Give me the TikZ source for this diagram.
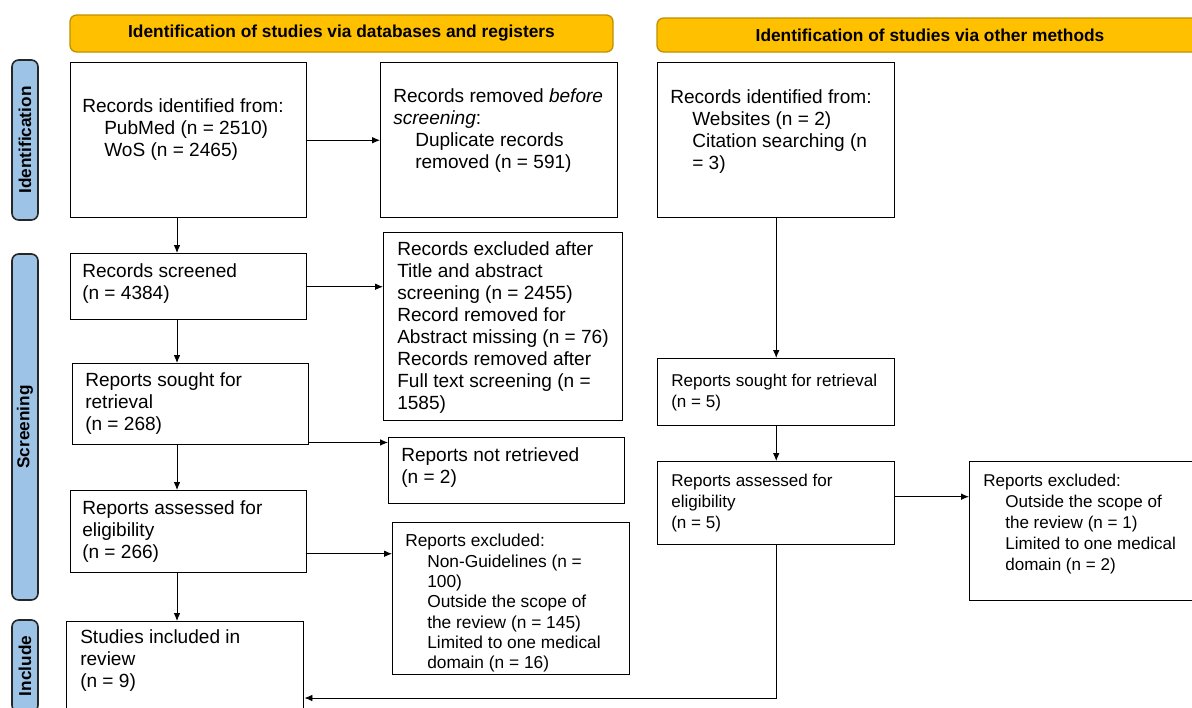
\documentclass[tikz,border=0pt]{standalone}
\usepackage{fontspec}
\setmainfont{Liberation Sans}
\usetikzlibrary{arrows.meta}
\definecolor{HdrGold}{RGB}{255,192,0}
\definecolor{HdrEdge}{RGB}{191,144,0}
\definecolor{SideBlue}{RGB}{157,195,230}
\newcommand{\subind}{\hspace*{16.5pt}}

\begin{document}
\begin{tikzpicture}[x=0.75pt, y=-0.75pt,
    box/.style={draw, line width=1.1pt, anchor=north west, inner sep=0pt},
    txt/.style={anchor=north west, align=left, inner sep=0pt, font=\fontsize{14.3}{16.5}\selectfont},
    stxt/.style={txt, font=\fontsize{12.8}{15.75}\selectfont},
    hdr/.style={draw=HdrEdge, fill=HdrGold, rounded corners=5pt, line width=1pt, inner sep=0pt, font=\bfseries\fontsize{13}{15}\selectfont},
    side/.style={draw=black!85, fill=SideBlue, rounded corners=5pt, line width=1.2pt, rotate=90, inner sep=0pt, font=\bfseries\fontsize{12.9}{15}\selectfont},
    arr/.style={-{Latex[length=6pt,width=5pt]}, line width=0.7pt}]
    \useasboundingbox (0,0) rectangle (1192,707);
    \clip (0,0) rectangle (1192,707);

    % headers and phase labels
    \node[hdr, minimum width=407.25pt, minimum height=27.75pt] (hdrDb) at (341.5,33.5) {Identification of studies via databases and registers};
    \node[hdr, minimum width=409.5pt, minimum height=25.5pt] (hdrOth) at (930,35) {Identification of studies via other methods};
    \node[side, minimum width=120pt, minimum height=19.5pt] (sideId) at (25,140) {Identification};
    \node[side, minimum width=259.5pt, minimum height=19.5pt] (sideScr) at (25,427) {Screening};
    \node[side, minimum width=69pt, minimum height=19.5pt] (sideInc) at (25,666) {Include};

    % databases and registers
    \node[box, minimum width=177pt, minimum height=116.25pt] (dbRec) at (70,62) {};
    \node[txt] (dbRecTxt) at ([shift={(12,36)}]dbRec.north west) {Records identified from:\\\subind PubMed (n = 2510)\\\subind WoS (n = 2465)};
    \node[box, minimum width=177.75pt, minimum height=116.25pt] (dbDup) at (380,62) {};
    \node[txt] (dbDupTxt) at ([shift={(13,26)}]dbDup.north west) {Records removed \textit{before}\\\textit{screening}:\\\subind Duplicate records\\\subind removed (n = 591)};
    \node[box, minimum width=177pt, minimum height=49.5pt] (dbScr) at (70,253) {};
    \node[txt] (dbScrTxt) at ([shift={(12,10)}]dbScr.north west) {Records screened\\(n = 4384)};
    \node[box, minimum width=179.25pt, minimum height=141pt] (dbExcl) at (383,232) {};
    \node[txt] (dbExclTxt) at ([shift={(14,9)}]dbExcl.north west) {Records excluded after\\Title and abstract\\screening (n = 2455)\\Record removed for\\Abstract missing (n = 76)\\Records removed after\\Full text screening (n =\\1585)};
    \node[box, minimum width=177pt, minimum height=60.75pt] (dbSought) at (72,363) {};
    \node[txt] (dbSoughtTxt) at ([shift={(13,9)}]dbSought.north west) {Reports sought for\\retrieval\\(n = 268)};
    \node[box, minimum width=177pt, minimum height=49.5pt] (dbNotRet) at (388,437) {};
    \node[txt] (dbNotRetTxt) at ([shift={(13,10)}]dbNotRet.north west) {Reports not retrieved\\(n = 2)};
    \node[box, minimum width=177pt, minimum height=61.5pt] (dbAss) at (70,490) {};
    \node[txt] (dbAssTxt) at ([shift={(12,10)}]dbAss.north west) {Reports assessed for\\eligibility\\(n = 266)};
    \node[box, minimum width=177.75pt, minimum height=114pt] (dbRepEx) at (392,522) {};
    \node[txt, font=\fontsize{13}{15.25}\selectfont] (dbRepExTxt) at ([shift={(13,12)}]dbRepEx.north west) {Reports excluded:\\\subind Non-Guidelines (n =\\\subind 100)\\\subind Outside the scope of\\\subind the review (n = 145)\\\subind Limited to one medical\\\subind domain (n = 16)};
    \node[box, minimum width=177.75pt, minimum height=75pt] (incl) at (66,621) {};
    \node[txt] (inclTxt) at ([shift={(14,8)}]incl.north west) {Studies included in\\review\\(n = 9)};

    % other methods
    \node[box, minimum width=177.75pt, minimum height=116.25pt] (othRec) at (657,62) {};
    \node[txt] (othRecTxt) at ([shift={(13,27)}]othRec.north west) {Records identified from:\\\subind Websites (n = 2)\\\subind Citation searching (n\\\subind = 3)};
    \node[box, minimum width=177.75pt, minimum height=50.25pt] (othSought) at (657,358) {};
    \node[stxt] (othSoughtTxt) at ([shift={(14,16)}]othSought.north west) {Reports sought for retrieval\\(n = 5)};
    \node[box, minimum width=177.75pt, minimum height=62.25pt] (othAss) at (657,461) {};
    \node[stxt] (othAssTxt) at ([shift={(14,13)}]othAss.north west) {Reports assessed for\\eligibility\\(n = 5)};
    \node[box, minimum width=177.75pt, minimum height=104.25pt] (othEx) at (969,461) {};
    \node[stxt] (othExTxt) at ([shift={(14,13)}]othEx.north west) {Reports excluded:\\\subind Outside the scope of\\\subind the review (n = 1)\\\subind Limited to one medical\\\subind domain (n = 2)};

    % connectors
    \coordinate (colL) at (177,0);
    \coordinate (retY) at (0,698);
    \draw[arr] (dbRec.south -| colL) -- (dbScr.north -| colL);
    \draw[arr] (dbScr.south -| colL) -- (dbSought.north -| colL);
    \draw[arr] (dbSought.south -| colL) -- (dbAss.north -| colL);
    \draw[arr] (dbAss.south -| colL) -- (incl.north -| colL);
    \draw[arr] (dbRec.east) -- (dbDup.west);
    \draw[arr] (dbScr.east) -- (dbScr.east -| dbExcl.west);
    \draw[arr] ([yshift=2.25pt]dbSought.south east) -- ([yshift=2.25pt]dbSought.south east -| dbNotRet.west);
    \draw[arr] ([yshift=-16.5pt]dbAss.east) -- ([yshift=-16.5pt]dbAss.east -| dbRepEx.west);
    \draw[arr] (othRec.south) -- (othSought.north);
    \draw[arr] (othSought.south) -- (othAss.north);
    \draw[arr] ([yshift=4.9pt]othAss.east) -- ([yshift=4.9pt]othAss.east -| othEx.west);
    \draw[arr] (othAss.south) |- (incl.east |- retY);
\end{tikzpicture}
\end{document}
